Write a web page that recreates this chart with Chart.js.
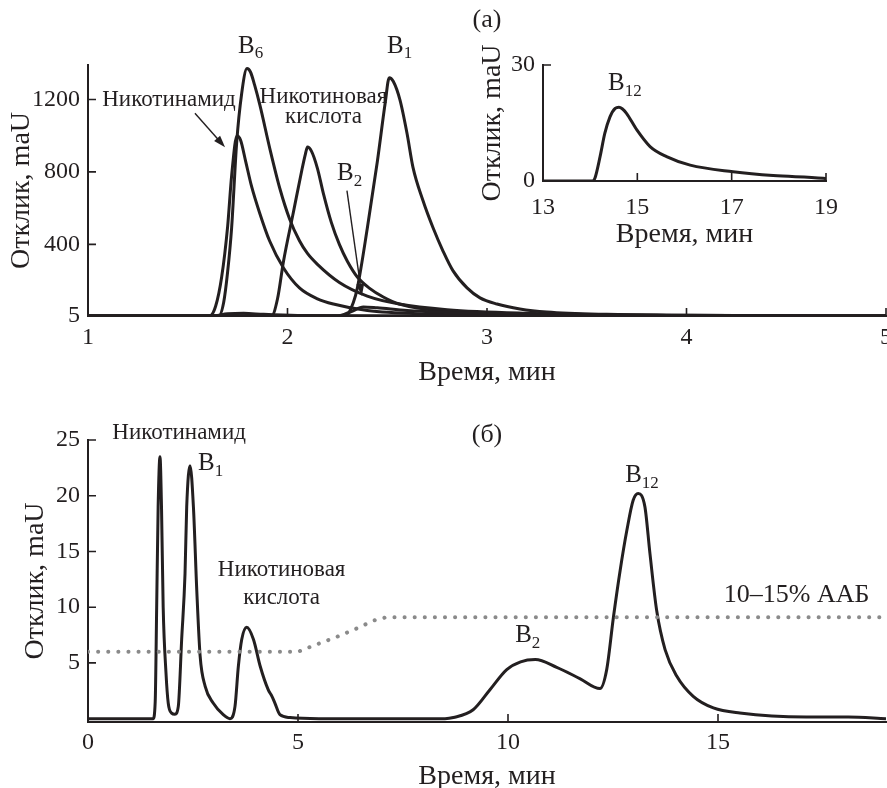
<!DOCTYPE html>
<html>
<head>
<meta charset="utf-8">
<script src="https://cdn.jsdelivr.net/npm/chart.js@4.4.1/dist/chart.umd.min.js"></script>
<style>
    body { margin: 0; background: #fff; }
    #wrap { position: relative; width: 887px; height: 788px; }
    canvas { position: absolute; }
</style>
</head>
<body>
<div id="wrap">
    <canvas id="top_chart" width="887" height="390" style="left:0;top:0"></canvas>
    <canvas id="inset_chart" width="400" height="260" style="left:470px;top:0"></canvas>
    <canvas id="bottom_chart" width="887" height="398" style="left:0;top:390px"></canvas>
</div>
<script>
// ---- (а) main chromatogram, 1-5 min ----
const nicotinamideT = [1.0, 1.61, 1.64, 1.67, 1.70, 1.72, 1.747, 1.765, 1.79, 1.82, 1.86, 1.91, 1.98, 2.06, 2.15, 2.23, 2.40, 2.7, 3.2, 4.0, 5.0];
const nicotinamideV = [5, 5, 60, 220, 500, 780, 1000, 975, 860, 720, 575, 420, 270, 160, 100, 71, 35, 16, 9, 6, 5];

const b6T = [1.0, 1.655, 1.68, 1.70, 1.72, 1.745, 1.77, 1.797, 1.815, 1.835, 1.862, 1.912, 1.962, 2.01, 2.06, 2.10, 2.15, 2.26, 2.40, 2.56, 2.8, 3.2, 3.7, 4.3, 5.0];
const b6V = [5, 5, 80, 250, 493, 958, 1230, 1370, 1350, 1280, 1167, 926, 707, 542, 420, 350, 290, 190, 115, 71, 40, 20, 11, 7, 5];

const nicAcidT = [1.0, 1.92, 1.95, 1.98, 2.03, 2.07, 2.09, 2.10, 2.12, 2.15, 2.18, 2.22, 2.26, 2.30, 2.35, 2.41, 2.48, 2.56, 2.8, 3.2, 4.0, 5.0];
const nicAcidV = [5, 5, 100, 307, 580, 800, 900, 937, 915, 820, 680, 520, 400, 307, 220, 159, 110, 71, 30, 14, 7, 5];

const b1T = [1.0, 2.29, 2.33, 2.35, 2.40, 2.45, 2.49, 2.51, 2.53, 2.564, 2.599, 2.629, 2.679, 2.729, 2.779, 2.83, 2.90, 2.965, 3.05, 3.165, 3.30, 3.6, 4.0, 4.5, 5.0];
const b1V = [5, 5, 80, 159, 489, 855, 1183, 1320, 1300, 1196, 1013, 825, 642, 493, 365, 254, 160, 105, 71, 44, 27, 14, 9, 6, 5];

const b2T = [1.0, 2.25, 2.32, 2.38, 2.45, 2.6, 3.0, 3.5, 4.0, 5.0];
const b2V = [5, 5, 30, 55, 50, 35, 18, 10, 7, 5];

const traceT = [1.0, 1.62, 1.70, 1.78, 1.88, 2.05, 2.5, 5.0];
const traceV = [5, 5, 17, 20, 14, 8, 6, 5];

const topTicksX = [1, 2, 3, 4, 5];
const topTicksY = [5, 400, 800, 1200];

// ---- (а) inset, B12 ----
const b12T = [13, 14.05, 14.10, 14.21, 14.31, 14.42, 14.53, 14.61, 14.68, 14.77, 14.99, 15.27, 15.62, 16.12, 17.03, 17.88, 18.94, 19];
const b12V = [0, 0, 0.7, 6.3, 12.3, 16.6, 18.8, 19.1, 18.7, 17.5, 13.2, 8.9, 6.3, 4.1, 2.4, 1.4, 0.7, 0.6];

const insetTicksX = [13, 15, 17, 19];
const insetTicksY = [0, 30];

// ---- (б) chromatogram with gradient ----
const runT = [0, 1.55, 1.6, 1.635, 1.67, 1.714, 1.75, 1.79, 1.857, 1.91, 1.99, 2.07, 2.15, 2.23, 2.31, 2.35, 2.43, 2.51, 2.59, 2.67, 2.79,
    2.98, 3.22, 3.38, 3.5, 3.58, 3.66, 3.78, 3.94, 4.1, 4.29, 4.38, 4.45, 4.57, 4.81, 5.5, 8.5, 8.7, 9.17, 9.57, 9.97, 10.3, 10.65,
    11.16, 11.71, 12.19, 12.35, 12.51, 12.67, 12.83, 12.98, 13.10, 13.26, 13.38, 13.54, 13.74, 14.02, 14.41, 14.89, 15.52, 17.1, 18.1, 19];
const runV = [0, 0, 1.5, 10, 19, 23.5, 19, 10, 4.1, 1.4, 0.5, 0.4, 1.1, 7.1, 13, 19, 22.7, 19, 11.5, 5.6, 2.9,
    1.4, 0.36, 0, 1.1, 4.7, 7.1, 8.2, 7.1, 4.7, 2.6, 2.0, 1.4, 0.36, 0.1, 0, 0, 0.1, 0.8, 2.6, 4.4, 5.1, 5.3,
    4.6, 3.6, 2.7, 4.4, 9.1, 13.3, 16.9, 19.6, 20.2, 19, 14.8, 9.7, 6.2, 3.8, 2.0, 0.96, 0.5, 0.15, 0.15, 0];

const gradT = [0, 5.0, 5.4, 5.9, 6.4, 6.8, 7.1, 19];
const gradV = [6, 6, 6.6, 7.3, 8.1, 8.8, 9.1, 9.1];

const bottomTicksX = [0, 5, 10, 15];
const bottomTicksY = [5, 10, 15, 20, 25];

const ink = '#231f20';
const serif = '"Liberation Serif", "DejaVu Serif", serif';

const toPoints = (t, v) => t.map((x, i) => ({ x: x, y: v[i] }));

const curve = (t, v) => ({
    data: toPoints(t, v),
    borderColor: ink,
    borderWidth: 3,
    pointRadius: 0,
    cubicInterpolationMode: 'monotone',
    fill: false
});

// small tick marks pointing into the plot
const inwardTicks = {
    id: 'inwardTicks',
    afterDraw(chart, args, opts) {
        const { ctx, scales: { x, y } } = chart;
        ctx.save();
        ctx.strokeStyle = ink;
        ctx.lineWidth = 1.6;
        ctx.beginPath();
        (opts.x || []).forEach(v => {
            const px = x.getPixelForValue(v);
            ctx.moveTo(px, y.bottom);
            ctx.lineTo(px, y.bottom - opts.len);
        });
        (opts.y || []).forEach(v => {
            const py = y.getPixelForValue(v);
            ctx.moveTo(x.left, py);
            ctx.lineTo(x.left + opts.len, py);
        });
        ctx.stroke();
        ctx.restore();
    }
};

// peak names and arrows, placed in data coordinates
const annotate = {
    id: 'annotate',
    afterDraw(chart, args, opts) {
        const { ctx, scales: { x, y } } = chart;
        ctx.save();
        ctx.fillStyle = ink;
        ctx.strokeStyle = ink;
        ctx.textBaseline = 'middle';
        (opts.labels || []).forEach(l => {
            const px = x.getPixelForValue(l.x);
            const py = y.getPixelForValue(l.y);
            ctx.font = l.size + 'px ' + serif;
            ctx.textAlign = l.align || 'center';
            ctx.fillText(l.text, px, py);
            if (l.sub) {
                const w = ctx.measureText(l.text).width;
                ctx.font = Math.round(l.size * 0.66) + 'px ' + serif;
                ctx.textAlign = 'left';
                ctx.fillText(l.sub, px + w, py + l.size * 0.32);
            }
        });
        (opts.arrows || []).forEach(a => {
            const x0 = x.getPixelForValue(a.from[0]), y0 = y.getPixelForValue(a.from[1]);
            const x1 = x.getPixelForValue(a.to[0]), y1 = y.getPixelForValue(a.to[1]);
            const ang = Math.atan2(y1 - y0, x1 - x0);
            ctx.lineWidth = 1.4;
            ctx.beginPath();
            ctx.moveTo(x0, y0);
            ctx.lineTo(x1 - 6 * Math.cos(ang), y1 - 6 * Math.sin(ang));
            ctx.stroke();
            ctx.beginPath();
            ctx.moveTo(x1, y1);
            ctx.lineTo(x1 - 12 * Math.cos(ang) + 4 * Math.sin(ang), y1 - 12 * Math.sin(ang) - 4 * Math.cos(ang));
            ctx.lineTo(x1 - 12 * Math.cos(ang) - 4 * Math.sin(ang), y1 - 12 * Math.sin(ang) + 4 * Math.cos(ang));
            ctx.closePath();
            ctx.fill();
        });
        ctx.restore();
    }
};

const make_axis = (cfg) => ({
    type: 'linear',
    min: cfg.min,
    max: cfg.max,
    afterBuildTicks: (scale) => { scale.ticks = cfg.ticks.map(v => ({ value: v })); },
    afterFit: (scale) => {
        if (cfg.width) scale.width = cfg.width;
        if (cfg.height) scale.height = cfg.height;
        scale.paddingLeft = 0; scale.paddingRight = 0;
        scale.paddingTop = 0; scale.paddingBottom = 0;
    },
    grid: { display: false, drawTicks: false },
    border: { display: true, color: ink, width: 2 },
    ticks: {
        color: ink,
        padding: cfg.pad,
        font: { family: serif, size: cfg.tickSize || 24 },
        maxRotation: 0,
        autoSkip: false,
        callback: (v) => String(v)
    },
    title: {
        display: true,
        text: cfg.title,
        color: ink,
        font: { family: serif, size: 28, lineHeight: 1 },
        padding: cfg.titlePad
    }
});

const base_options = (padding, xAxis, yAxis, ticksOpt, annotations) => ({
    responsive: false,
    animation: false,
    layout: { padding: padding },
    scales: { x: xAxis, y: yAxis },
    plugins: {
        legend: { display: false },
        tooltip: { enabled: false },
        inwardTicks: ticksOpt,
        annotate: annotations
    }
});

const render_top = () => {
    new Chart(document.getElementById('top_chart'), {
        type: 'line',
        data: {
            datasets: [
                curve(traceT, traceV),
                curve(b2T, b2V),
                curve(nicotinamideT, nicotinamideV),
                curve(b6T, b6V),
                curve(nicAcidT, nicAcidV),
                curve(b1T, b1V)
            ]
        },
        options: base_options(
            { top: 65, right: 1, left: 0, bottom: 0 },
            make_axis({ min: 1, max: 5, ticks: topTicksX, height: 74, pad: 7, title: 'Время, мин', titlePad: { bottom: 3 } }),
            make_axis({ min: 5, max: 1390, ticks: topTicksY, width: 88, pad: 8, title: 'Отклик, maU', titlePad: { top: 8 } }),
            { x: [2, 3, 4, 5], y: [400, 800, 1200], len: 8 },
            {
                labels: [
                    { text: 'B', sub: '6', x: 1.752, y: 1495, size: 25, align: 'left' },
                    { text: 'B', sub: '1', x: 2.499, y: 1495, size: 25, align: 'left' },
                    { text: 'B', sub: '2', x: 2.248, y: 792, size: 25, align: 'left' },
                    { text: 'Никотинамид', x: 1.406, y: 1196, size: 23 },
                    { text: 'Никотиновая', x: 2.18, y: 1213, size: 23 },
                    { text: 'кислота', x: 2.18, y: 1102, size: 23 },
                    { text: '(а)', x: 3.0, y: 1640, size: 26 }
                ],
                arrows: [
                    { from: [1.536, 1124], to: [1.687, 936] },
                    { from: [2.298, 697], to: [2.373, 116] }
                ]
            }
        )
    });
};

const render_inset = () => {
    new Chart(document.getElementById('inset_chart'), {
        type: 'line',
        data: { datasets: [curve(b12T, b12V)] },
        options: base_options(
            { top: 65, right: 44, left: 0, bottom: 0 },
            make_axis({ min: 13, max: 19, ticks: insetTicksX, height: 79, pad: 12, title: 'Время, мин', titlePad: { bottom: 11 } }),
            make_axis({ min: 0, max: 30, ticks: insetTicksY, width: 73, pad: 8, title: 'Отклик, maU', titlePad: { top: 9 } }),
            { x: [15, 17, 19], y: [30], len: 8 },
            {
                labels: [
                    { text: 'B', sub: '12', x: 14.38, y: 25.3, size: 25, align: 'left' }
                ]
            }
        )
    });
};

const render_bottom = () => {
    const gradient = {
        data: toPoints(gradT, gradV),
        borderColor: '#8a8a8a',
        borderWidth: 4,
        borderDash: [0.1, 10],
        borderCapStyle: 'round',
        pointRadius: 0,
        tension: 0,
        fill: false
    };
    new Chart(document.getElementById('bottom_chart'), {
        type: 'line',
        data: { datasets: [gradient, curve(runT, runV)] },
        options: base_options(
            { top: 50, right: 1, left: 0, bottom: 0 },
            make_axis({ min: 0, max: 19, ticks: bottomTicksX, height: 66, pad: 6, title: 'Время, мин', titlePad: { bottom: -3 } }),
            make_axis({ min: -0.3, max: 25, ticks: bottomTicksY, width: 88, pad: 8, title: 'Отклик, maU', titlePad: { top: 22 } }),
            { x: [5, 10, 15], y: [5, 10, 15, 20, 25], len: 8 },
            {
                labels: [
                    { text: 'Никотинамид', x: 2.17, y: 25.6, size: 23 },
                    { text: 'B', sub: '1', x: 2.62, y: 22.9, size: 25, align: 'left' },
                    { text: 'Никотиновая', x: 4.61, y: 13.3, size: 23 },
                    { text: 'кислота', x: 4.61, y: 10.8, size: 23 },
                    { text: '(б)', x: 9.5, y: 25.4, size: 26 },
                    { text: 'B', sub: '12', x: 12.79, y: 21.8, size: 25, align: 'left' },
                    { text: 'B', sub: '2', x: 10.17, y: 7.5, size: 25, align: 'left' },
                    { text: '10–15% ААБ', x: 16.87, y: 11.1, size: 26 }
                ]
            }
        )
    });
};

Chart.register(inwardTicks, annotate);
render_top();
render_inset();
render_bottom();
</script>
</body>
</html>
